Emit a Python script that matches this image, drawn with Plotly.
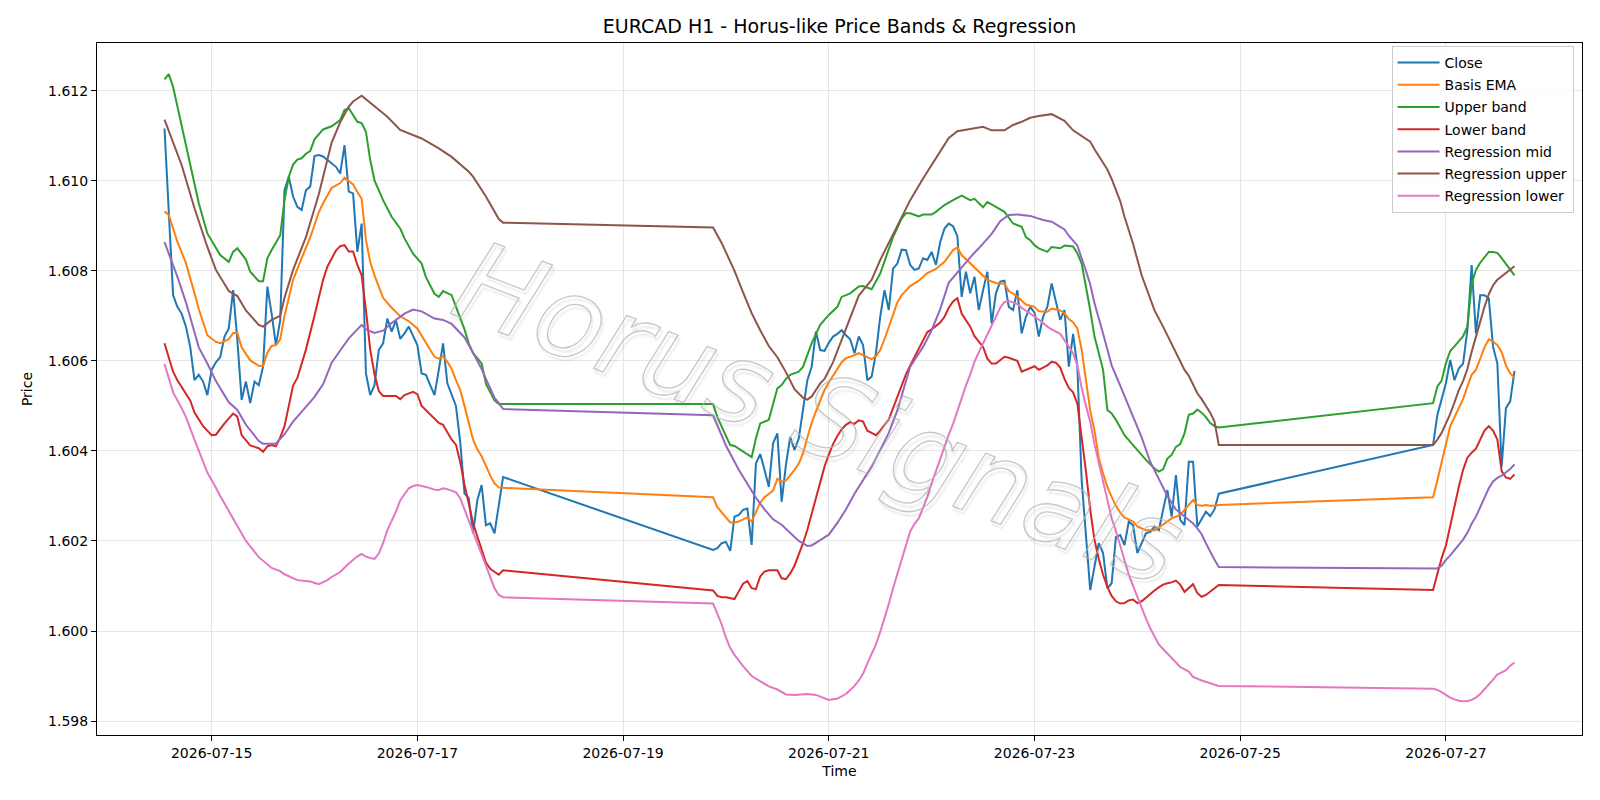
import pandas as pd
import plotly.graph_objects as go

BASE = pd.Timestamp("2026-07-14 00:00")

# ---------------- Close (hourly, with weekend gaps) ----------------
close_hours = list(range(13, 93)) + list(range(141, 260)) + list(range(309, 329))
close = [
    1.61116, 1.60920, 1.60746, 1.60720, 1.60705, 1.60676, 1.60631, 1.60557, 1.60569, 1.60554,
    1.60524, 1.60580, 1.60597, 1.60608, 1.60654, 1.60672, 1.60757, 1.60646, 1.60513, 1.60554,
    1.60506, 1.60554, 1.60546, 1.60587, 1.60765, 1.60705, 1.60635, 1.60690, 1.60979, 1.61009,
    1.60965, 1.60942, 1.60935, 1.60979, 1.60987, 1.61055, 1.61057, 1.61054, 1.61046, 1.61037,
    1.61031, 1.61016, 1.61079, 1.60976, 1.60972, 1.60842, 1.60905, 1.60572, 1.60524, 1.60546,
    1.60624, 1.60639, 1.60694, 1.60665, 1.60690, 1.60649, 1.60661, 1.60676, 1.60657, 1.60635,
    1.60572, 1.60569, 1.60546, 1.60524, 1.60580, 1.60639, 1.60550, 1.60524, 1.60500, 1.60420,
    1.60305, 1.60295, 1.60217, 1.60291, 1.60324, 1.60235, 1.60239, 1.60217, 1.60284, 1.60342,
    # second block
    1.60180, 1.60184, 1.60195, 1.60198, 1.60178, 1.60254, 1.60258, 1.60269, 1.60272, 1.60191,
    1.60372, 1.60393, 1.60358, 1.60320, 1.60417, 1.60439, 1.60287, 1.60369, 1.60431, 1.60402,
    1.60428, 1.60491, 1.60557, 1.60587, 1.60665, 1.60624, 1.60622, 1.60640, 1.60654, 1.60660,
    1.60668, 1.60657, 1.60648, 1.60617, 1.60654, 1.60635, 1.60557, 1.60565, 1.60617, 1.60698,
    1.60757, 1.60713, 1.60805, 1.60816, 1.60847, 1.60846, 1.60813, 1.60802, 1.60805, 1.60828,
    1.60824, 1.60842, 1.60813, 1.60864, 1.60894, 1.60905, 1.60899, 1.60877, 1.60742, 1.60798,
    1.60750, 1.60787, 1.60713, 1.60757, 1.60798, 1.60683, 1.60750, 1.60776, 1.60778, 1.60720,
    1.60713, 1.60757, 1.60661, 1.60698, 1.60720, 1.60707, 1.60654, 1.60698, 1.60720, 1.60772,
    1.60728, 1.60691, 1.60713, 1.60587, 1.60660, 1.60587, 1.60335, 1.60210, 1.60091, 1.60143,
    1.60195, 1.60173, 1.60095, 1.60106, 1.60209, 1.60213, 1.60191, 1.60243, 1.60235, 1.60173,
    1.60195, 1.60217, 1.60220, 1.60232, 1.60224, 1.60272, 1.60313, 1.60254, 1.60346, 1.60247,
    1.60235, 1.60376, 1.60376, 1.60232, 1.60250, 1.60265, 1.60255, 1.60270, 1.60305,
    # third block
    1.60413, 1.60480, 1.60513, 1.60550, 1.60602, 1.60557, 1.60583, 1.60594, 1.60668, 1.60813,
    1.60661, 1.60746, 1.60746, 1.60739, 1.60631, 1.60594, 1.60365, 1.60495, 1.60510, 1.60578,
]

# ---------------- Upper band ----------------
upper_hours = [13, 14, 15, 18, 20, 21, 23, 25, 26, 28, 29, 30, 32, 33, 35, 36, 37, 38, 39, 40,
               41, 42, 43, 44, 45, 46, 47, 48, 50, 52, 54, 55, 56, 58, 59, 60, 61, 62, 64, 66,
               68, 69, 71, 73, 74, 76, 77, 78, 80, 81, 82, 83, 84, 85, 87, 88, 90, 91, 92,
               141, 142, 143, 145, 146, 148, 150, 151, 152, 154, 155, 156, 157, 158, 159, 161, 162,
               163, 164, 166, 167, 168, 170, 171, 173, 175, 176, 178, 180, 181, 182, 183, 185, 186,
               187, 189, 190, 192, 193, 195, 197, 199, 200, 201, 202, 204, 205, 207, 209, 211, 213,
               214, 215, 216, 217, 219, 220, 222, 223, 225, 226, 227, 228, 229, 230, 231, 232, 233,
               234, 235, 237, 239, 241, 242, 244, 245, 246, 247, 248, 249, 250, 251, 252, 253, 254,
               255, 256, 257, 258, 259,
               309, 310, 311, 312, 313, 314, 316, 317, 318, 319, 320, 322, 323, 324, 325, 326, 327, 328]
upper = [1.61225, 1.61237, 1.61209, 1.61080, 1.60994, 1.60950, 1.60883, 1.60850, 1.60835, 1.60820,
         1.60842, 1.60850, 1.60825, 1.60798, 1.60777, 1.60777, 1.60828, 1.60846, 1.60861, 1.60879,
         1.60957, 1.61009, 1.61036, 1.61047, 1.61050, 1.61060, 1.61066, 1.61092, 1.61114, 1.61121,
         1.61135, 1.61157, 1.61161, 1.61131, 1.61128, 1.61109, 1.61046, 1.61001, 1.60957, 1.60920,
         1.60894, 1.60872, 1.60838, 1.60816, 1.60786, 1.60749, 1.60742, 1.60755, 1.60746, 1.60720,
         1.60695, 1.60670, 1.60639, 1.60617, 1.60594, 1.60549, 1.60512, 1.60504, 1.60504,
         1.60504, 1.60475, 1.60455, 1.60413, 1.60411, 1.60398, 1.60386, 1.60428, 1.60461, 1.60469,
         1.60506, 1.60539, 1.60546, 1.60560, 1.60569, 1.60576, 1.60587, 1.60613, 1.60639, 1.60680,
         1.60691, 1.60702, 1.60720, 1.60742, 1.60750, 1.60765, 1.60766, 1.60759, 1.60794, 1.60820,
         1.60850, 1.60875, 1.60916, 1.60928, 1.60928, 1.60921, 1.60925, 1.60925, 1.60931, 1.60946,
         1.60957, 1.60967, 1.60962, 1.60957, 1.60960, 1.60941, 1.60953, 1.60942, 1.60931, 1.60905,
         1.60898, 1.60875, 1.60868, 1.60857, 1.60850, 1.60842, 1.60853, 1.60850, 1.60856, 1.60854,
         1.60839, 1.60816, 1.60765, 1.60713, 1.60654, 1.60620, 1.60580, 1.60491, 1.60483, 1.60469,
         1.60435, 1.60413, 1.60391, 1.60380, 1.60361, 1.60354, 1.60359, 1.60383, 1.60391, 1.60409,
         1.60415, 1.60439, 1.60480, 1.60483, 1.60492, 1.60485, 1.60475, 1.60462, 1.60455, 1.60452,
         1.60506, 1.60543, 1.60556, 1.60595, 1.60622, 1.60632, 1.60655, 1.60676, 1.60770, 1.60802,
         1.60818, 1.60842, 1.60842, 1.60840, 1.60828, 1.60815, 1.60802, 1.60790]

# ---------------- Basis EMA ----------------
basis_hours = [13, 14, 16, 18, 20, 21, 23, 25, 26, 28, 29, 30, 31, 33, 35, 36, 37, 38, 39, 40,
               41, 42, 43, 45, 47, 49, 50, 52, 54, 55, 57, 58, 59, 60, 61, 62, 64, 66, 68, 70,
               72, 74, 76, 77, 78, 79, 80, 81, 82, 83, 84, 85, 86, 87, 88, 89, 90, 91, 92,
               141, 142, 143, 144, 145, 146, 147, 148, 149, 150, 151, 152, 153, 154, 155, 156, 157,
               158, 159, 160, 161, 162, 163, 164, 165, 166, 167, 168, 169, 170, 171, 172, 173, 175,
               177, 178, 179, 180, 181, 182, 183, 184, 185, 187, 189, 191, 193, 195, 197, 198, 199,
               201, 203, 204, 205, 207, 209, 210, 212, 214, 216, 217, 219, 220, 222, 223, 224, 225,
               226, 227, 228, 229, 230, 231, 232, 233, 234, 235, 236, 237, 239, 240, 242, 244, 245,
               246, 247, 248, 250, 251, 252, 253, 254, 255, 256, 257, 258, 259,
               309, 310, 311, 312, 313, 314, 315, 316, 317, 318, 319, 320, 321, 322, 323, 324, 325,
               326, 327, 328]
basis = [1.60932, 1.60924, 1.60865, 1.60817, 1.60750, 1.60715, 1.60657, 1.60642, 1.60639, 1.60648,
         1.60662, 1.60662, 1.60630, 1.60601, 1.60589, 1.60588, 1.60618, 1.60633, 1.60635, 1.60648,
         1.60700, 1.60742, 1.60780, 1.60828, 1.60874, 1.60930, 1.60950, 1.60984, 1.60995, 1.61007,
         1.60992, 1.60975, 1.60960, 1.60868, 1.60820, 1.60790, 1.60740, 1.60718, 1.60699, 1.60688,
         1.60672, 1.60640, 1.60609, 1.60605, 1.60610, 1.60598, 1.60582, 1.60557, 1.60535, 1.60500,
         1.60462, 1.60425, 1.60403, 1.60388, 1.60367, 1.60345, 1.60328, 1.60319, 1.60318,
         1.60297, 1.60275, 1.60263, 1.60252, 1.60241, 1.60241, 1.60243, 1.60248, 1.60252, 1.60243,
         1.60265, 1.60285, 1.60297, 1.60305, 1.60312, 1.60338, 1.60332, 1.60334, 1.60345, 1.60358,
         1.60372, 1.60395, 1.60430, 1.60462, 1.60488, 1.60513, 1.60535, 1.60552, 1.60568, 1.60584,
         1.60597, 1.60606, 1.60609, 1.60617, 1.60609, 1.60604, 1.60610, 1.60624, 1.60648, 1.60675,
         1.60705, 1.60730, 1.60746, 1.60766, 1.60778, 1.60795, 1.60804, 1.60820, 1.60846, 1.60852,
         1.60835, 1.60816, 1.60797, 1.60788, 1.60780, 1.60773, 1.60771, 1.60755, 1.60743, 1.60725,
         1.60720, 1.60710, 1.60709, 1.60716, 1.60712, 1.60706, 1.60693, 1.60686, 1.60672, 1.60625,
         1.60555, 1.60490, 1.60445, 1.60385, 1.60350, 1.60320, 1.60298, 1.60278, 1.60263, 1.60252,
         1.60243, 1.60232, 1.60224, 1.60224, 1.60230, 1.60237, 1.60245, 1.60250, 1.60258, 1.60268,
         1.60280, 1.60291, 1.60280, 1.60278, 1.60280, 1.60278, 1.60278, 1.60280,
         1.60297, 1.60335, 1.60378, 1.60415, 1.60455, 1.60475, 1.60495, 1.60515, 1.60543, 1.60569,
         1.60580, 1.60605, 1.60630, 1.60648, 1.60643, 1.60635, 1.60620, 1.60590, 1.60572, 1.60563]

# ---------------- Lower band ----------------
lower_hours = [13, 15, 16, 18, 19, 20, 21, 22, 24, 25, 27, 29, 30, 31, 33, 35, 36, 37, 38, 39,
               40, 41, 42, 43, 44, 46, 48, 50, 51, 53, 54, 55, 56, 57, 58, 59, 60, 61, 62, 63,
               64, 67, 68, 69, 71, 72, 73, 75, 77, 78, 79, 80, 81, 82, 83, 84, 85, 86, 87, 88,
               89, 90, 91, 92,
               141, 142, 143, 144, 145, 146, 147, 148, 149, 150, 151, 152, 153, 154, 155, 156, 157,
               158, 159, 160, 161, 162, 163, 164, 165, 166, 167, 168, 169, 170, 171, 172, 173, 174,
               175, 176, 177, 178, 179, 180, 181, 182, 183, 184, 185, 186, 187, 188, 189, 190, 191,
               192, 193, 194, 195, 196, 197, 198, 199, 200, 201, 202, 203, 204, 205, 206, 207, 208,
               209, 210, 211, 212, 213, 214, 215, 216, 217, 218, 219, 220, 221, 222, 223, 224, 225,
               226, 227, 228, 229, 230, 231, 232, 233, 234, 235, 236, 237, 238, 239, 240, 241, 242,
               243, 244, 245, 246, 247, 248, 249, 250, 251, 252, 253, 254, 255, 256, 257, 258, 259,
               309, 310, 311, 312, 313, 314, 315, 316, 317, 318, 319, 320, 321, 322, 323, 324, 325,
               326, 327, 328]
lower = [1.60639, 1.60576, 1.60557, 1.60528, 1.60512, 1.60485, 1.60470, 1.60455, 1.60435, 1.60436,
         1.60461, 1.60483, 1.60476, 1.60435, 1.60412, 1.60406, 1.60398, 1.60410, 1.60413, 1.60410,
         1.60430, 1.60455, 1.60500, 1.60545, 1.60562, 1.60625, 1.60700, 1.60780, 1.60809, 1.60845,
         1.60855, 1.60857, 1.60843, 1.60843, 1.60813, 1.60790, 1.60713, 1.60625, 1.60570, 1.60533,
         1.60522, 1.60522, 1.60515, 1.60524, 1.60531, 1.60526, 1.60500, 1.60482, 1.60462, 1.60458,
         1.60440, 1.60425, 1.60414, 1.60375, 1.60325, 1.60285, 1.60240, 1.60210, 1.60180, 1.60152,
         1.60138, 1.60131, 1.60125, 1.60135,
         1.60090, 1.60078, 1.60075, 1.60075, 1.60073, 1.60071, 1.60088, 1.60105, 1.60111, 1.60095,
         1.60093, 1.60121, 1.60132, 1.60135, 1.60135, 1.60135, 1.60117, 1.60115, 1.60128, 1.60145,
         1.60170, 1.60195, 1.60225, 1.60260, 1.60295, 1.60330, 1.60365, 1.60392, 1.60415, 1.60433,
         1.60448, 1.60458, 1.60464, 1.60460, 1.60468, 1.60465, 1.60445, 1.60440, 1.60435, 1.60445,
         1.60458, 1.60470, 1.60495, 1.60520, 1.60545, 1.60570, 1.60590, 1.60608, 1.60625, 1.60645,
         1.60664, 1.60670, 1.60678, 1.60685, 1.60698, 1.60718, 1.60732, 1.60739, 1.60705, 1.60690,
         1.60676, 1.60655, 1.60642, 1.60631, 1.60605, 1.60594, 1.60594, 1.60602, 1.60609, 1.60607,
         1.60604, 1.60600, 1.60576, 1.60580, 1.60585, 1.60588, 1.60580, 1.60585, 1.60590, 1.60598,
         1.60596, 1.60585, 1.60560, 1.60540, 1.60530, 1.60505, 1.60435, 1.60355, 1.60270, 1.60202,
         1.60160, 1.60125, 1.60098, 1.60078, 1.60066, 1.60061, 1.60062, 1.60068, 1.60070, 1.60062,
         1.60066, 1.60074, 1.60084, 1.60090, 1.60097, 1.60103, 1.60106, 1.60108, 1.60112, 1.60103,
         1.60087, 1.60095, 1.60104, 1.60084, 1.60076, 1.60080, 1.60088, 1.60095, 1.60102,
         1.60091, 1.60130, 1.60162, 1.60190, 1.60235, 1.60280, 1.60320, 1.60358, 1.60385, 1.60396,
         1.60405, 1.60425, 1.60445, 1.60455, 1.60445, 1.60425, 1.60355, 1.60341, 1.60338, 1.60348]

# ---------------- Regression mid ----------------
mid_hours = [13, 16, 18, 21, 23, 25, 28, 30, 32, 35, 36, 39, 41, 43, 46, 48, 50, 52, 54, 56,
             59, 60, 62, 64, 66, 69, 71, 73, 76, 78, 80, 83, 85, 87, 88, 90, 91, 92,
             141, 143, 144, 147, 149, 151, 153, 155, 157, 159, 161, 163, 164, 166, 168, 170, 172,
             174, 175, 178, 180, 182, 184, 186, 187, 190, 192, 194, 196, 199, 201, 203, 204, 206,
             208, 210, 212, 215, 218, 220, 223, 224, 226, 227, 228, 229, 230, 232, 234, 236, 237,
             239, 241, 243, 245, 247, 249, 251, 253, 254, 255, 256, 257, 258, 259,
             309, 310, 311, 312, 313, 314, 315, 316, 317, 318, 319, 320, 321, 322, 323, 324, 325,
             326, 327, 328]
mid = [1.60864, 1.60787, 1.60730, 1.60630, 1.60594, 1.60555, 1.60508, 1.60491, 1.60458, 1.60422,
       1.60416, 1.60416, 1.60437, 1.60465, 1.60498, 1.60520, 1.60548, 1.60596, 1.60623, 1.60650,
       1.60680, 1.60670, 1.60662, 1.60667, 1.60684, 1.60705, 1.60714, 1.60710, 1.60694, 1.60691,
       1.60682, 1.60652, 1.60618, 1.60582, 1.60560, 1.60518, 1.60506, 1.60493,
       1.60479, 1.60435, 1.60412, 1.60358, 1.60326, 1.60296, 1.60270, 1.60248, 1.60236, 1.60217,
       1.60200, 1.60189, 1.60190, 1.60202, 1.60214, 1.60240, 1.60270, 1.60305, 1.60320, 1.60365,
       1.60402, 1.60440, 1.60490, 1.60555, 1.60587, 1.60631, 1.60668, 1.60715, 1.60774, 1.60807,
       1.60830, 1.60850, 1.60860, 1.60882, 1.60910, 1.60924, 1.60925, 1.60922, 1.60913, 1.60909,
       1.60892, 1.60878, 1.60856, 1.60830, 1.60800, 1.60770, 1.60728, 1.60661, 1.60590, 1.60545,
       1.60522, 1.60480, 1.60430, 1.60376, 1.60338, 1.60300, 1.60270, 1.60254, 1.60239, 1.60228,
       1.60215, 1.60195, 1.60175, 1.60158, 1.60142,
       1.60139, 1.60139, 1.60145, 1.60158, 1.60168, 1.60179, 1.60191, 1.60203, 1.60218, 1.60238,
       1.60254, 1.60276, 1.60298, 1.60317, 1.60332, 1.60340, 1.60345, 1.60352, 1.60360, 1.60370]

# ---------------- Regression upper ----------------
rupper_hours = [13, 15, 17, 20, 23, 25, 28, 30, 32, 35, 36, 38, 40, 41, 43, 46, 49, 52, 54, 56,
                57, 59, 62, 65, 68, 73, 77, 80, 84, 85, 88, 90, 91, 92,
                141, 143, 146, 148, 150, 152, 154, 156, 158, 160, 162, 163, 164, 166, 167, 169, 171,
                173, 175, 178, 180, 182, 185, 187, 190, 192, 195, 196, 198, 201, 204, 206, 209, 211,
                213, 215, 217, 220, 223, 225, 228, 229, 230, 233, 234, 236, 237, 239, 241, 244, 246,
                249, 251, 252, 254, 255, 256, 257, 258, 259,
                309, 310, 311, 312, 313, 314, 315, 316, 317, 318, 319, 320, 321, 322, 323, 324, 325,
                326, 327, 328]
rupper = [1.61136, 1.61085, 1.61035, 1.60939, 1.60853, 1.60802, 1.60755, 1.60744, 1.60712, 1.60680,
          1.60676, 1.60691, 1.60700, 1.60740, 1.60802, 1.60875, 1.60970, 1.61085, 1.61130, 1.61165,
          1.61176, 1.61189, 1.61165, 1.61142, 1.61113, 1.61094, 1.61072, 1.61053, 1.61020, 1.61009,
          1.60965, 1.60931, 1.60915, 1.60907,
          1.60896, 1.60862, 1.60800, 1.60752, 1.60706, 1.60668, 1.60633, 1.60608, 1.60575, 1.60537,
          1.60518, 1.60514, 1.60521, 1.60550, 1.60560, 1.60597, 1.60646, 1.60698, 1.60745, 1.60780,
          1.60824, 1.60862, 1.60920, 1.60957, 1.61005, 1.61035, 1.61078, 1.61095, 1.61110, 1.61115,
          1.61120, 1.61112, 1.61112, 1.61124, 1.61131, 1.61140, 1.61144, 1.61148, 1.61133, 1.61112,
          1.61093, 1.61087, 1.61070, 1.61025, 1.61004, 1.60955, 1.60920, 1.60860, 1.60790, 1.60712,
          1.60676, 1.60618, 1.60580, 1.60567, 1.60528, 1.60515, 1.60500, 1.60485, 1.60465, 1.60413,
          1.60413, 1.60425, 1.60440, 1.60460, 1.60482, 1.60508, 1.60535, 1.60555, 1.60582, 1.60620,
          1.60654, 1.60690, 1.60720, 1.60748, 1.60768, 1.60780, 1.60788, 1.60795, 1.60802, 1.60810]

# ---------------- Regression lower ----------------
rlower_hours = [13, 15, 17, 18, 20, 21, 23, 25, 26, 29, 32, 35, 37, 38, 40, 41, 44, 47, 49, 50,
                51, 52, 54, 56, 58, 59, 60, 61, 62, 63, 64, 65, 66, 67, 68, 69, 70, 71, 72, 74,
                76, 77, 78, 79, 81, 82, 83, 84, 85, 86, 87, 88, 89, 90, 91, 92,
                141, 142, 143, 144, 145, 146, 148, 150, 152, 154, 156, 158, 160, 163, 165, 168, 170,
                172, 173, 174, 175, 176, 177, 178, 179, 180, 181, 182, 183, 184, 185, 186, 187, 188,
                189, 190, 191, 192, 193, 194, 195, 196, 197, 198, 199, 200, 201, 202, 203, 204, 205,
                206, 207, 208, 209, 210, 211, 212, 213, 215, 217, 219, 220, 222, 223, 224, 225, 226,
                227, 228, 229, 230, 231, 232, 233, 234, 235, 236, 237, 238, 239, 240, 241, 242, 243,
                244, 245, 246, 247, 248, 249, 250, 252, 253, 255, 257, 259,
                309, 310, 311, 312, 313, 314, 315, 316, 317, 318, 319, 320, 321, 322, 323, 324, 325,
                326, 327, 328]
rlower = [1.60593, 1.60530, 1.60495, 1.60475, 1.60425, 1.60400, 1.60352, 1.60318, 1.60300, 1.60250,
          1.60200, 1.60164, 1.60147, 1.60140, 1.60133, 1.60126, 1.60113, 1.60110, 1.60104, 1.60108,
          1.60113, 1.60120, 1.60131, 1.60150, 1.60166, 1.60171, 1.60165, 1.60162, 1.60160, 1.60172,
          1.60195, 1.60224, 1.60243, 1.60265, 1.60290, 1.60305, 1.60317, 1.60322, 1.60324, 1.60320,
          1.60314, 1.60313, 1.60317, 1.60315, 1.60308, 1.60295, 1.60270, 1.60245, 1.60220, 1.60195,
          1.60172, 1.60148, 1.60122, 1.60095, 1.60080, 1.60075,
          1.60061, 1.60038, 1.60015, 1.59985, 1.59962, 1.59947, 1.59922, 1.59900, 1.59888, 1.59877,
          1.59870, 1.59859, 1.59858, 1.59860, 1.59858, 1.59847, 1.59850, 1.59860, 1.59869, 1.59878,
          1.59890, 1.59905, 1.59928, 1.59948, 1.59970, 1.59998, 1.60028, 1.60060, 1.60095, 1.60125,
          1.60158, 1.60190, 1.60221, 1.60238, 1.60250, 1.60275, 1.60298, 1.60328, 1.60355, 1.60385,
          1.60410, 1.60436, 1.60460, 1.60490, 1.60518, 1.60545, 1.60570, 1.60598, 1.60619, 1.60639,
          1.60658, 1.60678, 1.60698, 1.60718, 1.60731, 1.60733, 1.60730, 1.60726, 1.60718, 1.60706,
          1.60692, 1.60676, 1.60670, 1.60660, 1.60645, 1.60630, 1.60617, 1.60590, 1.60540, 1.60500,
          1.60465, 1.60415, 1.60375, 1.60335, 1.60293, 1.60250, 1.60222, 1.60190, 1.60158, 1.60125,
          1.60100, 1.60075, 1.60050, 1.60028, 1.60006, 1.59987, 1.59970, 1.59960, 1.59950, 1.59940,
          1.59930, 1.59920, 1.59910, 1.59898, 1.59890, 1.59884, 1.59878, 1.59872,
          1.59869, 1.59864, 1.59858, 1.59852, 1.59848, 1.59845, 1.59844, 1.59844, 1.59847, 1.59852,
          1.59860, 1.59870, 1.59880, 1.59892, 1.59903, 1.59908, 1.59913, 1.59923, 1.59930, 1.59937]


def times(hours):
    return [BASE + pd.Timedelta(hours=h) for h in hours]


series = [
    ("Close", close_hours, close, "#1f77b4"),
    ("Basis EMA", basis_hours, basis, "#ff7f0e"),
    ("Upper band", upper_hours, upper, "#2ca02c"),
    ("Lower band", lower_hours, lower, "#d62728"),
    ("Regression mid", mid_hours, mid, "#9467bd"),
    ("Regression upper", rupper_hours, rupper, "#8c564b"),
    ("Regression lower", rlower_hours, rlower, "#e377c2"),
]

fig = go.Figure()
for name, hrs, vals, col in series:
    fig.add_trace(go.Scatter(
        x=times(hrs), y=vals, mode="lines", name=name, legendgroup=name,
        line=dict(color=col, width=2),
    ))

FONT = "DejaVu Sans"
x_start = BASE + pd.Timedelta(hours=-2.75)
x_end = BASE + pd.Timedelta(hours=343.75)

fig.update_layout(
    width=1600, height=800,
    margin=dict(l=97, r=18, t=43, b=65, autoexpand=False),
    paper_bgcolor="white", plot_bgcolor="white",
    font=dict(family=FONT, size=14, color="black"),
    title=dict(text="EURCAD H1 - Horus-like Price Bands & Regression",
               x=0.5, xref="paper", xanchor="center",
               y=1 - 26 / 800, yref="container", yanchor="middle",
               font=dict(family=FONT, size=19, color="black")),
    showlegend=True,
    legend=dict(x=0.9943, xanchor="right", y=0.9957, yanchor="top",
                bgcolor="rgba(255,255,255,0.8)", bordercolor="#cccccc", borderwidth=1,
                font=dict(family=FONT, size=14, color="black"),
                tracegroupgap=1, itemwidth=42, traceorder="grouped"),
)

fig.update_xaxes(
    type="date", range=[x_start, x_end],
    tick0="2026-07-15", dtick=2 * 24 * 3600 * 1000, tickformat="%Y-%m-%d",
    showgrid=True, gridcolor="#e6e6e6", gridwidth=1,
    showline=True, linecolor="black", linewidth=1, mirror=True,
    ticks="outside", ticklen=5, tickwidth=1, tickcolor="black",
    tickfont=dict(family=FONT, size=14, color="black"),
    title=dict(text="Time", font=dict(family=FONT, size=14, color="black"), standoff=6),
    zeroline=False,
)
fig.update_yaxes(
    range=[1.59769, 1.61306],
    tick0=1.598, dtick=0.002, tickformat=".3f",
    showgrid=True, gridcolor="#e6e6e6", gridwidth=1,
    showline=True, linecolor="black", linewidth=1, mirror=True,
    ticks="outside", ticklen=5, tickwidth=1, tickcolor="black",
    tickfont=dict(family=FONT, size=14, color="black"),
    title=dict(text="Price", font=dict(family=FONT, size=14, color="black"), standoff=12),
    zeroline=False,
)

# watermark
fig.add_annotation(
    text="Horus Signals", xref="paper", yref="paper", x=0.486, y=0.465,
    showarrow=False, textangle=21,
    font=dict(family=FONT, size=112, color="rgba(255,255,255,0)", style="italic",
              shadow="3px 3px 2px rgba(120,120,120,0.28)"),
)

post = """
var gd = document.getElementById('{plot_id}');
gd.querySelectorAll('g.annotation text').forEach(function(t){
  if (t.textContent.indexOf('Horus') === 0) {
    t.style.fill = 'rgba(255,255,255,0)';
    t.style.stroke = 'rgba(180,180,180,0.75)';
    t.style.strokeWidth = '1.3px';
  }
});
"""

fig.write_html("out.html", post_script=post)
